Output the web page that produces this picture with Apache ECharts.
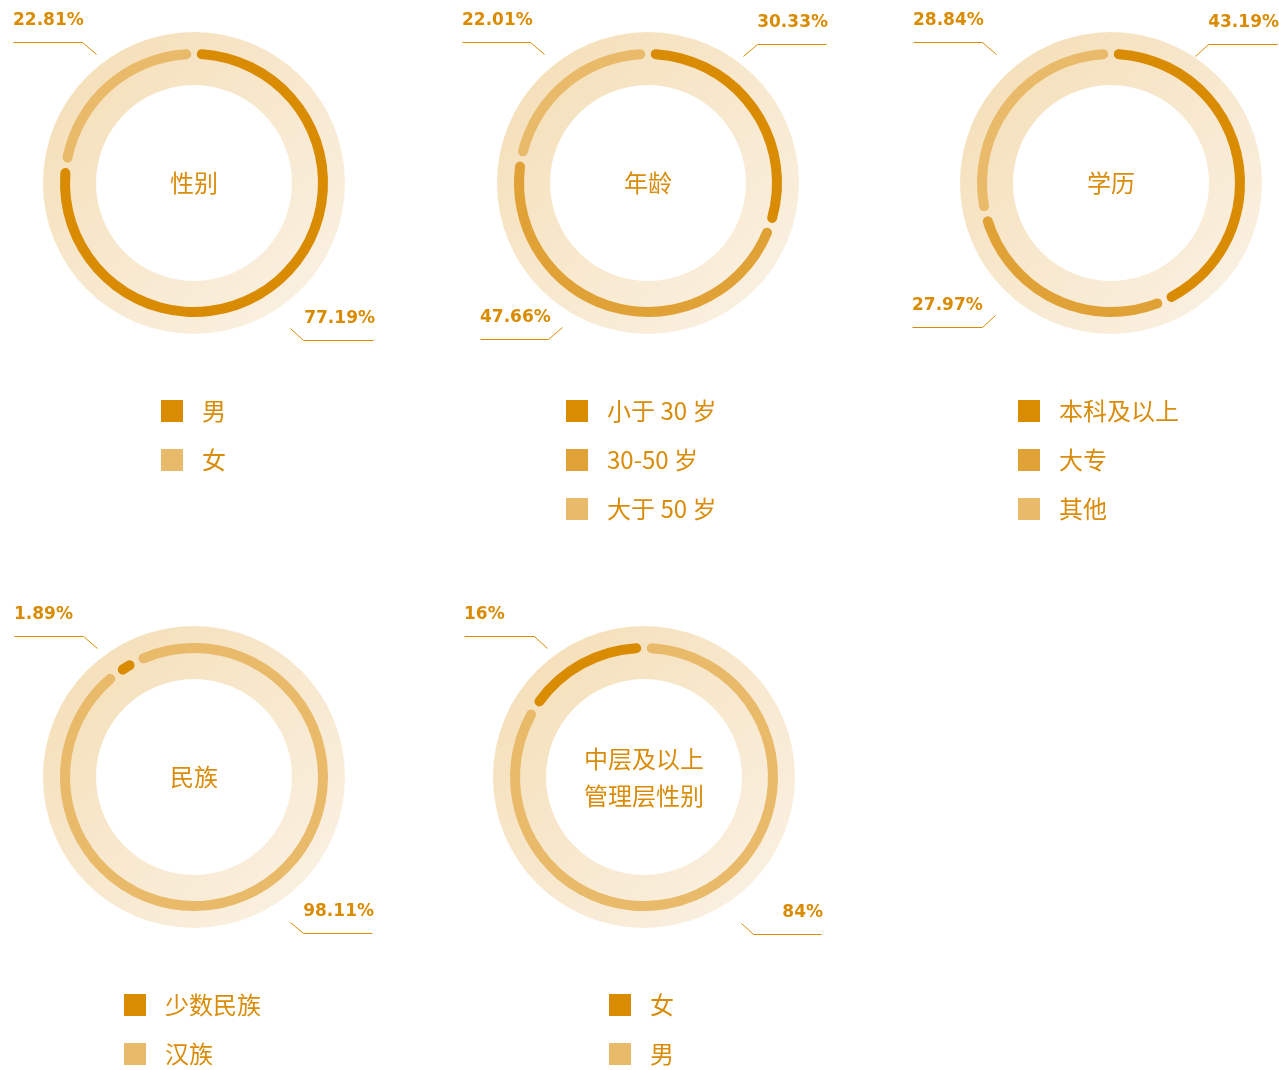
<!DOCTYPE html>
<html>
<head>
<meta charset="utf-8">
<title>员工结构</title>
<script src="https://cdn.jsdelivr.net/npm/echarts@6/dist/echarts.min.js"></script>
<style>
html, body {
  margin: 0;
  padding: 0;
  width: 1279px;
  height: 1070px;
  overflow: hidden;
  background: #fff;
  position: relative;
}
.panel {
  position: absolute;
  width: 440px;
  height: 580px;
}
</style>
</head>
<body>
<div id="gender-chart" class="panel"></div>
<div id="age-chart" class="panel"></div>
<div id="edu-chart" class="panel"></div>
<div id="ethnic-chart" class="panel"></div>
<div id="manager-chart" class="panel"></div>

<script>
// data
var genderNames = ['男', '女']
var genderValues = [77.19, 22.81]
var ageNames = ['小于 30 岁', '30-50 岁', '大于 50 岁']
var ageValues = [30.33, 47.66, 22.01]
var eduNames = ['本科及以上', '大专', '其他']
var eduValues = [43.19, 27.97, 28.84]
var ethnicNames = ['少数民族', '汉族']
var ethnicValues = [1.89, 98.11]
var managerNames = ['女', '男']
var managerValues = [16, 84]

var DARK = '#D98B02'
var MID = '#E0A236'
var LIGHT = '#E8BA6A'
var TEXT = '#D98C0A'
var CJK = '"Noto Sans CJK SC", "Noto Sans", sans-serif'

// leader line points relative to the ring center: inner end, elbow, outer end
var LINES = {
  tl: [[-98, -129], [-112, -141], [-181, -141]],
  tr: [[93, -127], [107, -139], [176, -139]],
  br: [[96, 145], [109, 157], [179, 157]],
  bl: [[-86, 144], [-100, 156], [-168, 156]]
}
var LINES_AGE_TL = [[-104, -129], [-118, -141], [-186, -141]]
var LINES_EDU = {
  tl: [[-115, -129], [-129, -141], [-198, -141]],
  tr: [[84, -127], [97, -139], [166, -139]],
  bl: [[-116, 132], [-129, 144], [-199, 144]]
}

var CX = 220
var CY = 183

function buildOption (cfg) {
  var data = cfg.names.map(function (n, i) {
    return { name: n, value: cfg.values[i], itemStyle: { color: cfg.colors[i] } }
  })
  return {
    animation: false,
    legend: {
      orient: 'vertical',
      left: cfg.legendLeft,
      top: 399,
      padding: 0,
      icon: 'rect',
      itemWidth: 22,
      itemHeight: 22,
      itemGap: 25,
      selectedMode: false,
      textStyle: {
        color: TEXT,
        fontSize: 24,
        fontFamily: CJK,
        padding: [0, 0, 0, 14]
      },
      data: cfg.names
    },
    series: [
      {
        type: 'pie',
        silent: true,
        radius: [98, 151],
        center: [CX, CY],
        label: {
          show: true,
          position: 'center',
          formatter: cfg.title,
          color: TEXT,
          fontSize: 24,
          lineHeight: 37,
          fontFamily: CJK
        },
        labelLine: { show: false },
        emphasis: { disabled: true },
        data: [{
          value: 1,
          name: cfg.title,
          itemStyle: {
            color: new echarts.graphic.LinearGradient(0, 0, 1, 1, [
              { offset: 0, color: '#F4DDB4' },
              { offset: 1, color: '#FBF3E7' }
            ])
          }
        }]
      },
      {
        type: 'pie',
        radius: [124, 134],
        center: [CX, CY],
        startAngle: cfg.startAngle,
        clockwise: cfg.clockwise,
        padAngle: 2.5,
        minAngle: 8,
        avoidLabelOverlap: false,
        itemStyle: { borderRadius: 5 },
        emphasis: { scale: false },
        label: {
          show: true,
          position: 'outside',
          formatter: function (p) { return p.value + '%' },
          color: DARK,
          fontSize: 17,
          fontWeight: 'bold',
          fontFamily: '"DejaVu Sans", sans-serif'
        },
        labelLine: {
          show: true,
          lineStyle: { color: DARK, width: 1 }
        },
        labelLayout: function (params) {
          var pts = cfg.lines[params.dataIndex]
          var left = pts[2][0] < 0
          return {
            x: CX + pts[2][0] + (left ? 0 : 2),
            y: CY + pts[2][1] - 21,
            align: left ? 'left' : 'right',
            verticalAlign: 'middle',
            labelLinePoints: pts.map(function (p) { return [CX + p[0] + 0.5, CY + p[1] + 0.5] })
          }
        },
        data: data
      }
    ]
  }
}

var panels = [
  {
    id: 'gender-chart', cx: 194, cy: 183, title: '性别',
    names: genderNames, values: genderValues, colors: [DARK, LIGHT],
    lines: [LINES.br, LINES.tl], startAngle: 90, clockwise: true, legendLeft: 187
  },
  {
    id: 'age-chart', cx: 648, cy: 183, title: '年龄',
    names: ageNames, values: ageValues, colors: [DARK, MID, LIGHT],
    lines: [[[95, -127], [109, -139], [178, -139]], LINES.bl, LINES_AGE_TL],
    startAngle: 90, clockwise: true, legendLeft: 138
  },
  {
    id: 'edu-chart', cx: 1111, cy: 183, title: '学历',
    names: eduNames, values: eduValues, colors: [DARK, MID, LIGHT],
    lines: [LINES_EDU.tr, LINES_EDU.bl, LINES_EDU.tl],
    startAngle: 90, clockwise: true, legendLeft: 127
  },
  {
    id: 'ethnic-chart', cx: 194, cy: 777, title: '民族',
    names: ethnicNames, values: ethnicValues, colors: [DARK, LIGHT],
    lines: [[[-97, -129], [-111, -141], [-180, -141]], [[96, 145], [109, 156], [178, 156]]],
    startAngle: 127, clockwise: true, legendLeft: 150
  },
  {
    id: 'manager-chart', cx: 643.5, cy: 777, title: '中层及以上\n管理层性别',
    names: managerNames, values: managerValues, colors: [DARK, LIGHT],
    lines: [[[-97, -129], [-110, -141], [-180, -141]], [[97, 146], [109, 157], [177, 157]]],
    startAngle: 90, clockwise: false, legendLeft: 185
  }
]

var charts = panels.map(function (cfg) {
  var el = document.getElementById(cfg.id)
  el.style.left = (cfg.cx - CX) + 'px'
  el.style.top = (cfg.cy - CY) + 'px'
  var chart = echarts.init(el, null, { renderer: 'canvas' })
  chart.setOption(buildOption(cfg))
  return chart
})

window.onresize = function () {
  charts.forEach(function (c) { c.resize() })
}
</script>
</body>
</html>
